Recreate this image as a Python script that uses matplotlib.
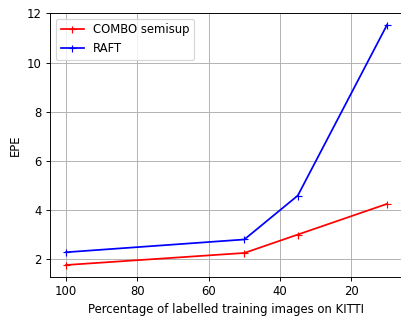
import matplotlib
matplotlib.use('Agg')
import matplotlib.pyplot as plt

## Data
percent = [100, 50, 35, 10]
combo_epe = [1.75, 2.24, 2.99, 4.24]
raft_epe = [2.27, 2.79, 4.58, 11.53]

dpi = 84
fig = plt.figure(figsize=(401 / dpi, 316 / dpi), dpi=dpi)
ax = fig.add_axes([50 / 401, 39 / 316, 353 / 401, 264 / 316])

ax.plot(percent, combo_epe, color='red', marker='+', label='COMBO semisup')
ax.plot(percent, raft_epe, color='blue', marker='+', label='RAFT')

ax.invert_xaxis()
ax.grid(True)
# the right edge of the original figure is cropped away
ax.spines['right'].set_visible(False)
ax.set_xlabel('Percentage of labelled training images on KITTI')
ax.set_ylabel('EPE')
ax.legend(loc='upper left')

fig.savefig('out.png', dpi=dpi)
